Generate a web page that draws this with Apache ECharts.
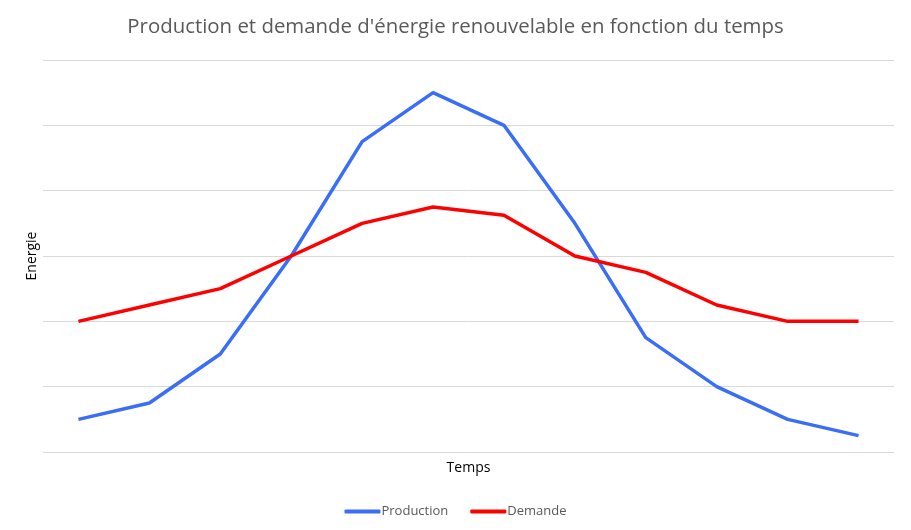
<!DOCTYPE html>
<html><head><meta charset="utf-8">
<script src="https://cdn.jsdelivr.net/npm/echarts@6/dist/echarts.min.js"></script>
<style>html,body{margin:0;padding:0;background:#fff}#c{width:911px;height:530px}</style>
</head><body><div id="c"></div>
<script>
const categories = ['1','2','3','4','5','6','7','8','9','10','11','12'];
const production = [2, 3, 6, 12, 19, 22, 20, 14, 7, 4, 2, 1];
const demande = [8, 9, 10, 12, 14, 15, 14.5, 12, 11, 9, 8, 8];
const seriesNames = ['Production', 'Demande'];

const chart = echarts.init(document.getElementById('c'));
const font = '"Open Sans", "Noto Sans", sans-serif';
chart.setOption({
  animation: false,
  title: {
    text: "Production et demande d'énergie renouvelable en fonction du temps",
    left: 'center', top: 12,
    textStyle: { fontFamily: font, fontSize: 20.4, fontWeight: 'normal', color: '#595959' }
  },
  legend: {
    bottom: 7, left: 'center',
    itemWidth: 36, itemHeight: 4, itemGap: 22,
    icon: 'roundRect',
    textStyle: { fontFamily: font, fontSize: 13, color: '#595959', padding: [0,0,0,-4] },
    data: seriesNames
  },
  grid: { left: 43, right: 17, top: 60, bottom: 78 },
  xAxis: {
    type: 'category', data: categories, boundaryGap: true,
    name: 'Temps', nameLocation: 'middle', nameGap: 9,
    nameTextStyle: { fontFamily: font, fontSize: 14, color: '#000' },
    axisLine: { show: false }, axisTick: { show: false }, axisLabel: { show: false }
  },
  yAxis: {
    type: 'value', min: 0, max: 24, interval: 4,
    name: 'Energie', nameLocation: 'middle', nameGap: 4,
    nameTextStyle: { fontFamily: font, fontSize: 14, color: '#000' },
    axisLine: { show: false }, axisTick: { show: false }, axisLabel: { show: false },
    splitLine: { lineStyle: { color: '#d9d9d9', width: 1 } }
  },
  series: [
    { name: seriesNames[0], type: 'line', data: production, showSymbol: false, symbol: 'none',
      lineStyle: { color: '#3a6ef7', width: 3.5 }, itemStyle: { color: '#3a6ef7' } },
    { name: seriesNames[1], type: 'line', data: demande, showSymbol: false, symbol: 'none',
      lineStyle: { color: '#ff0000', width: 3.5 }, itemStyle: { color: '#ff0000' } }
  ]
});
</script></body></html>
